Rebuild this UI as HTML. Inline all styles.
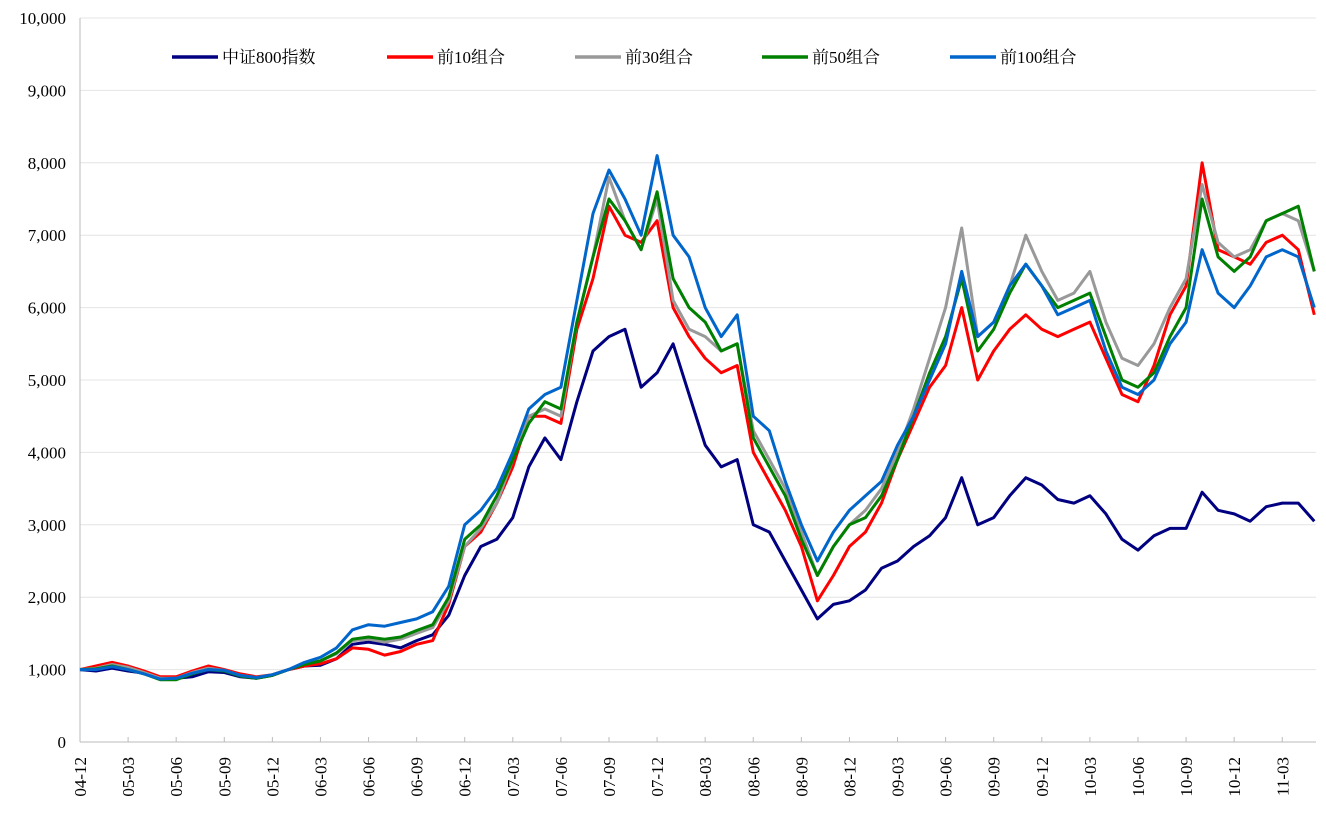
<!DOCTYPE html>
<html><head><meta charset="utf-8">
<style>
html,body{margin:0;padding:0;background:#fff;}
svg text{font-family:"Liberation Serif","Noto Serif CJK SC",serif;}
</style></head>
<body>
<svg id="chart" width="1326" height="819" xmlns="http://www.w3.org/2000/svg">
<g id="grid"></g>
<g id="yaxis"></g>
<g id="xaxis"></g>
<g id="series"></g>
<g id="legend"></g>
</svg>
<script>
const yTicks=[0,1000,2000,3000,4000,5000,6000,7000,8000,9000,10000];
const xTickLabels=["04-12","05-03","05-06","05-09","05-12","06-03","06-06","06-09","06-12","07-03","07-06","07-09","07-12","08-03","08-06","08-09","08-12","09-03","09-06","09-09","09-12","10-03","10-06","10-09","10-12","11-03"];
const seriesNames=["中证800指数","前10组合","前30组合","前50组合","前100组合"];
const seriesColors=["#000080","#ff0000","#999999","#008000","#0066cc"];
const csi800=[1000,
980,1020,980,950,880,880,900,970,960,900,880,920,
1000,1050,1060,1150,1350,1380,1350,1300,1400,1480,1750,2300,
2700,2800,3100,3800,4200,3900,4700,5400,5600,5700,4900,5100,
5500,4800,4100,3800,3900,3000,2900,2500,2100,1700,1900,1950,
2100,2400,2500,2700,2850,3100,3650,3000,3100,3400,3650,3550,
3350,3300,3400,3150,2800,2650,2850,2950,2950,3450,3200,3150,
3050,3250,3300,3300,3050];
const top10=[1000,
1050,1100,1050,980,900,900,980,1050,1000,940,900,930,
1000,1050,1080,1150,1300,1280,1200,1250,1350,1400,1900,2700,
2900,3300,3800,4500,4500,4400,5700,6400,7400,7000,6900,7200,
6000,5600,5300,5100,5200,4000,3600,3200,2700,1950,2300,2700,
2900,3300,3900,4400,4900,5200,6000,5000,5400,5700,5900,5700,
5600,5700,5800,5300,4800,4700,5200,5900,6300,8000,6800,6700,
6600,6900,7000,6800,5900];
const top30=[1000,
1020,1070,1030,960,880,880,960,1020,990,920,890,930,
1000,1080,1120,1220,1400,1420,1380,1420,1500,1580,1950,2700,
2950,3300,3900,4500,4600,4500,5800,6700,7800,7200,6800,7500,
6100,5700,5600,5400,5500,4300,3900,3500,2900,2300,2700,3000,
3200,3500,4000,4600,5300,6000,7100,5600,5800,6300,7000,6500,
6100,6200,6500,5800,5300,5200,5500,6000,6400,7700,6900,6700,
6800,7200,7300,7200,6500];
const top50=[1000,
1010,1050,1000,940,860,860,940,1000,980,910,880,920,
1000,1070,1120,1230,1420,1450,1420,1450,1540,1620,2000,2800,
3000,3400,3900,4400,4700,4600,5800,6700,7500,7200,6800,7600,
6400,6000,5800,5400,5500,4200,3800,3400,2800,2300,2700,3000,
3100,3400,3900,4500,5100,5600,6400,5400,5700,6200,6600,6300,
6000,6100,6200,5600,5000,4900,5100,5600,6000,7500,6700,6500,
6700,7200,7300,7400,6500];
const top100=[1000,
1000,1040,1000,940,870,880,950,1000,990,920,890,930,
1000,1100,1170,1300,1550,1620,1600,1650,1700,1800,2150,3000,
3200,3500,4000,4600,4800,4900,6100,7300,7900,7500,7000,8100,
7000,6700,6000,5600,5900,4500,4300,3600,3000,2500,2900,3200,
3400,3600,4100,4500,5000,5500,6500,5600,5800,6300,6600,6300,
5900,6000,6100,5400,4900,4800,5000,5500,5800,6800,6200,6000,
6300,6700,6800,6700,6000];
const allSeries=[csi800,top10,top30,top50,top100];

const NS="http://www.w3.org/2000/svg";
const X0=80,X1=1316,Y0=742,Y1=18,monthW=16.03;
function xScale(i){return X0+i*monthW;}
function yScale(v){return Y0-(v/10000)*(Y0-Y1);}
function mk(tag,attrs,parent){const e=document.createElementNS(NS,tag);for(const k in attrs)e.setAttribute(k,attrs[k]);parent.appendChild(e);return e;}
const grid=document.getElementById('grid'),ya=document.getElementById('yaxis'),xa=document.getElementById('xaxis'),sg=document.getElementById('series'),lg=document.getElementById('legend');
yTicks.forEach(v=>{
  const y=yScale(v);
  if(v>0){const l=mk('line',{x1:X0,x2:X1,y1:y,y2:y,stroke:'#e4e4e4','stroke-width':1},grid);
  
  }
  const t=mk('text',{x:66,y:y+6,'text-anchor':'end','font-size':17,fill:'#000'},ya);
  t.textContent=v.toLocaleString('en-US');
  
  
});
mk('line',{x1:X0,x2:X0,y1:Y1,y2:Y0,stroke:'#bbb','stroke-width':1},ya);
mk('line',{x1:X0,x2:X1,y1:Y0,y2:Y0,stroke:'#bbb','stroke-width':1},xa);
xTickLabels.forEach((lab,i)=>{
  const x=xScale(i*3);
  mk('line',{x1:x,x2:x,y1:Y0-5,y2:Y0,stroke:'#bbb','stroke-width':1},xa);
  const t=mk('text',{x:0,y:0,'font-size':17,fill:'#000','text-anchor':'end',transform:`translate(${x+6},${757}) rotate(-90)`},xa);
  t.textContent=lab;
  
  
});
allSeries.forEach((arr,si)=>{
  const d=arr.map((v,i)=>(i?'L':'M')+xScale(i).toFixed(1)+','+yScale(v).toFixed(1)).join('');
  const p=mk('path',{d:d,fill:'none',stroke:seriesColors[si],'stroke-width':3,'stroke-linejoin':'round'},sg);
  
  
});
const legX=[172,387,575,762,950];
seriesNames.forEach((n,i)=>{
  const g=mk('g',{},lg);
  
  
  mk('line',{x1:legX[i],x2:legX[i]+46,y1:57,y2:57,stroke:seriesColors[i],'stroke-width':3.5},g);
  const t=mk('text',{x:legX[i]+50,y:63,'font-size':17,fill:'#000'},g);
  t.textContent=n;
});
</script>
</body></html>
